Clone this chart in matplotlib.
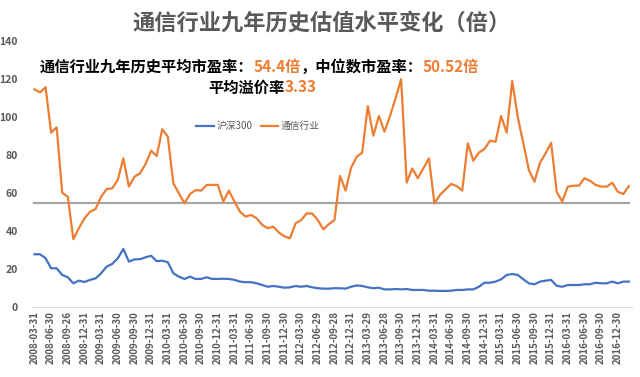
import matplotlib
matplotlib.use("Agg")
import matplotlib.pyplot as plt
import numpy as np

plt.rcParams['font.family'] = ['Noto Sans CJK SC', 'DejaVu Sans']

# monthly P/E values, 2008-03 .. 2017-02
telecom = [114.4, 112.8, 115.5, 91.6, 94.4, 60.0, 57.9, 35.5, 41.3, 46.5,
           50.0, 51.4, 57.9, 61.9, 62.3, 66.7, 78.1, 63.2, 68.4, 70.2,
           75.1, 82.1, 79.3, 93.4, 89.5, 64.9, 59.7, 54.4, 59.3, 61.4,
           61.1, 64.1, 64.1, 64.1, 55.3, 61.1, 55.3, 50.0, 47.4, 48.3,
           46.5, 43.0, 41.3, 42.1, 39.0, 37.0, 36.0, 43.9, 45.6, 49.1,
           49.0, 45.6, 40.7, 43.5, 45.6, 68.8, 61.1, 73.2, 78.9, 81.1,
           105.6, 90.0, 100.4, 92.1, 100.4, 109.7, 119.8, 65.3, 72.8, 67.6,
           72.8, 78.1, 54.4, 58.8, 61.8, 64.6, 63.5, 61.1, 86.0, 76.8,
           81.1, 83.0, 87.4, 86.8, 100.4, 91.6, 118.8, 99.7, 86.0, 71.9,
           65.8, 75.8, 80.7, 86.3, 60.5, 55.3, 63.2, 63.7, 63.7, 67.6,
           66.3, 64.1, 63.2, 63.2, 65.3, 60.5, 59.3, 63.5]
hs300 = [27.6, 27.6, 25.5, 20.2, 20.2, 16.7, 15.5, 12.3, 13.7, 13.0,
         14.1, 14.9, 17.6, 21.1, 22.5, 25.5, 30.4, 23.7, 24.9, 25.0,
         26.0, 26.8, 24.0, 24.2, 23.4, 17.6, 15.8, 14.6, 15.8, 14.6,
         14.6, 15.5, 14.6, 14.6, 14.7, 14.6, 14.1, 13.2, 12.9, 12.9,
         12.3, 11.4, 10.5, 10.9, 10.5, 10.0, 10.2, 10.9, 10.5, 10.9,
         10.2, 9.7, 9.5, 9.5, 9.7, 9.7, 9.5, 10.5, 11.2, 10.9,
         10.2, 9.7, 10.0, 9.1, 9.1, 9.3, 9.1, 9.3, 8.8, 8.8,
         8.8, 8.4, 8.4, 8.3, 8.3, 8.4, 8.8, 8.8, 9.1, 9.1,
         10.5, 12.6, 12.6, 13.2, 14.4, 16.7, 17.2, 16.7, 14.4, 12.3,
         11.8, 13.2, 13.7, 14.1, 11.0, 10.5, 11.4, 11.4, 11.4, 11.8,
         11.8, 12.6, 12.3, 12.3, 13.2, 12.3, 13.2, 13.2]
avg_pe = 54.4
median_pe = 50.52
premium = 3.33

tick_labels = ['2008-03-31', '2008-06-30', '2008-09-26', '2008-12-31',
               '2009-03-31', '2009-06-30', '2009-09-30', '2009-12-31',
               '2010-03-31', '2010-06-30', '2010-09-30', '2010-12-31',
               '2011-03-31', '2011-06-30', '2011-09-30', '2011-12-30',
               '2012-03-30', '2012-06-29', '2012-09-28', '2012-12-31',
               '2013-03-29', '2013-06-28', '2013-09-30', '2013-12-31',
               '2014-03-31', '2014-06-30', '2014-09-30', '2014-12-31',
               '2015-03-31', '2015-06-30', '2015-09-30', '2015-12-31',
               '2016-03-31', '2016-06-30', '2016-09-30', '2016-12-30']

orange = '#ED7D31'
blue = '#4472C4'
grey_txt = '#595959'

x = np.arange(len(telecom))

fig = plt.figure(figsize=(6.4, 3.77), dpi=100)
ax = fig.add_axes([0.0495, 0.1865, 0.9375, 0.7055])

ax.plot(x, [avg_pe] * len(x), color='#A5A5A5', lw=1.6, zorder=1)
ax.plot(x, hs300, color=blue, lw=1.6, label='沪深300', zorder=2)
ax.plot(x, telecom, color=orange, lw=1.6, label='通信行业', zorder=3)

ax.set_xlim(-0.5, len(x) - 0.5)
ax.set_ylim(0, 140)
ax.set_yticks(range(0, 141, 20))
ax.set_xticks(x[::3])
ax.set_xticklabels(tick_labels, rotation=90, fontsize=7, color=grey_txt)
ax.tick_params(axis='y', labelsize=7.5, labelcolor=grey_txt, length=0, pad=10)
ax.tick_params(axis='x', length=0, pad=3)
for lab in ax.get_yticklabels() + ax.get_xticklabels():
    lab.set_fontweight('bold')
for side in ['top', 'right', 'left']:
    ax.spines[side].set_visible(False)
ax.spines['bottom'].set_color('#D9D9D9')

leg = ax.legend(loc='upper left', bbox_to_anchor=(0.26, 0.73), ncol=2, frameon=False,
                fontsize=7, handlelength=1.8, columnspacing=0.8, handletextpad=0.3)
for t in leg.get_texts():
    t.set_color(grey_txt)

fig.text(0.503, 0.94, '通信行业九年历史估值水平变化（倍）', ha='center', va='center',
         fontsize=16, fontweight='bold', color=grey_txt)

# annotation, built from pieces so the numbers can be coloured
fig.canvas.draw()
renderer = fig.canvas.get_renderer()


def coloured_line(parts, x0, y):
    xs = x0
    for s, c in parts:
        t = fig.text(xs, y, s, fontsize=11, fontweight='bold', color=c, va='center')
        xs += t.get_window_extent(renderer).width / fig.bbox.width


coloured_line([('通信行业九年历史平均市盈率：', 'black'), (f'{avg_pe}倍', orange),
               ('，中位数市盈率：', 'black'), (f'{median_pe}倍', orange)],
              40 / 640, 0.822)
coloured_line([('平均溢价率', 'black'), (f'{premium}', orange)], 208 / 640, 0.768)

fig.savefig('out.png', dpi=100)
